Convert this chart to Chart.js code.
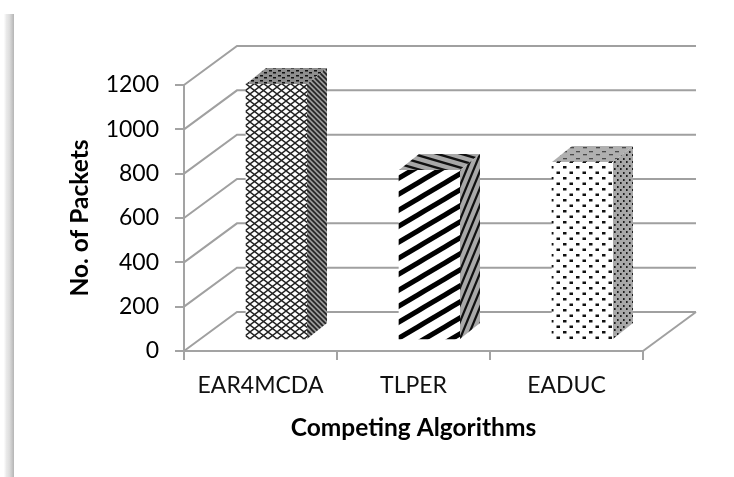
<!DOCTYPE html>
<html>
<head>
<meta charset="utf-8">
<title>No. of Packets</title>
<script src="https://cdn.jsdelivr.net/npm/chart.js@4/dist/chart.umd.min.js"></script>
<style>
  html, body { margin: 0; padding: 0; background: #fff; }
  canvas { display: block; }
</style>
</head>
<body>
<canvas id="grafico" width="734" height="477"></canvas>
<script>
var categorias = ["EAR4MCDA", "TLPER", "EADUC"];
var pacotes = [1155, 767, 803];
var ticksY = [0, 200, 400, 600, 800, 1000, 1200];

var corEixo = "#a3a3a3";
var corGrade = "#a0a0a0";
// deslocamentos do efeito 3D
var fundoX = 53, fundoY = -39;
var barraX = 16, barraY = -11;
var ladoX = 20, ladoY = -16;

function criaTile(w, h, fundo, desenha) {
  var c = document.createElement("canvas");
  c.width = w;
  c.height = h;
  var g = c.getContext("2d");
  g.fillStyle = fundo;
  g.fillRect(0, 0, w, h);
  desenha(g);
  return g.createPattern(c, "repeat");
}

function riscos(g, w, h, largura, cor, sobe) {
  g.strokeStyle = cor;
  g.lineWidth = largura;
  for (var i = -3; i <= 3; i++) {
    g.beginPath();
    if (sobe) {
      g.moveTo(i * w - w, 2 * h);
      g.lineTo(i * w + 2 * w, -h);
    } else {
      g.moveTo(i * w - w, -h);
      g.lineTo(i * w + 2 * w, 2 * h);
    }
    g.stroke();
  }
}

function pingos(g, pts, cor, w, h) {
  g.fillStyle = cor;
  pts.forEach(function(p) {
    g.fillRect(p[0], p[1], w, h);
  });
}

var texturas = [
  {
    frente: criaTile(9, 7, "#ffffff", function(g) {
      riscos(g, 9, 7, 1.4, "#222222", true);
      riscos(g, 9, 7, 1.4, "#222222", false);
    }),
    topo: criaTile(9, 5, "#8f8f8f", function(g) {
      pingos(g, [[1, 1], [5, 3]], "#111111", 3, 1.5);
    }),
    lado: criaTile(5, 5, "#9a9a9a", function(g) { riscos(g, 5, 5, 1.6, "#222222", false); })
  },
  {
    frente: criaTile(27, 16, "#ffffff", function(g) { riscos(g, 27, 16, 5, "#000000", true); }),
    topo: criaTile(24, 7, "#a8a8a8", function(g) { riscos(g, 24, 7, 2.4, "#111111", false); }),
    lado: criaTile(7, 17, "#a8a8a8", function(g) { riscos(g, 7, 17, 2.2, "#111111", true); })
  },
  {
    frente: criaTile(13, 11, "#ffffff", function(g) {
      pingos(g, [[1, 1], [7.5, 6.5]], "#111111", 3.5, 2.5);
    }),
    topo: criaTile(13, 7, "#b0b0b0", function(g) {
      pingos(g, [[1, 1], [8, 4]], "#4a4a4a", 4, 1.3);
    }),
    lado: criaTile(6, 7, "#a8a8a8", function(g) {
      pingos(g, [[1, 1], [4, 4]], "#1c1c1c", 1.6, 2);
    })
  }
];

var paredes3d = {
  id: "paredes3d",
  beforeDraw: function(chart) {
    // sombra da folha, lado esquerdo
    var ctx = chart.ctx;
    var grad = ctx.createLinearGradient(4, 0, 14, 0);
    grad.addColorStop(0, "rgba(200,200,200,0)");
    grad.addColorStop(0.5, "rgba(225,225,225,1)");
    grad.addColorStop(0.95, "rgba(185,185,185,1)");
    grad.addColorStop(1, "rgba(255,255,255,0)");
    ctx.fillStyle = grad;
    ctx.fillRect(4, 14, 10, 463);
  },
  beforeDatasetsDraw: function(chart) {
    var ctx = chart.ctx;
    var y = chart.scales.y;
    var a = chart.chartArea;
    ctx.save();
    ctx.strokeStyle = corGrade;
    ctx.lineWidth = 2;
    ticksY.forEach(function(v) {
      var py = y.getPixelForValue(v);
      ctx.beginPath();
      ctx.moveTo(a.left, py);
      ctx.lineTo(a.left + fundoX, py + fundoY);
      ctx.lineTo(a.right + fundoX, py + fundoY);
      ctx.stroke();
    });
    // chao
    var base = y.getPixelForValue(0);
    ctx.beginPath();
    ctx.moveTo(a.right, base);
    ctx.lineTo(a.right + fundoX, base + fundoY);
    ctx.stroke();
    ctx.restore();

    ctx.save();
    ctx.translate(barraX, barraY);
  },
  afterDatasetsDraw: function(chart) {
    var ctx = chart.ctx;
    chart.getDatasetMeta(0).data.forEach(function(bar, i) {
      var esq = bar.x - bar.width / 2;
      var dir = bar.x + bar.width / 2;
      ctx.fillStyle = texturas[i].topo;
      ctx.beginPath();
      ctx.moveTo(esq, bar.y);
      ctx.lineTo(esq + ladoX, bar.y + ladoY);
      ctx.lineTo(dir + ladoX, bar.y + ladoY);
      ctx.lineTo(dir, bar.y);
      ctx.closePath();
      ctx.fill();
      ctx.fillStyle = texturas[i].lado;
      ctx.beginPath();
      ctx.moveTo(dir, bar.y);
      ctx.lineTo(dir + ladoX, bar.y + ladoY);
      ctx.lineTo(dir + ladoX, bar.base + ladoY);
      ctx.lineTo(dir, bar.base);
      ctx.closePath();
      ctx.fill();
    });
    ctx.restore();
  }
};

new Chart(document.getElementById("grafico"), {
  type: "bar",
  plugins: [paredes3d],
  data: {
    labels: categorias,
    datasets: [{
      data: pacotes,
      backgroundColor: texturas.map(function(t) { return t.frente; }),
      borderWidth: 0,
      barThickness: 61
    }]
  },
  options: {
    responsive: false,
    animation: false,
    layout: { padding: { top: 85, right: 91, left: 0, bottom: 0 } },
    plugins: { legend: { display: false }, tooltip: { enabled: false } },
    scales: {
      x: {
        afterFit: function(s) { s.height = 126; },
        grid: { drawOnChartArea: false, drawTicks: true, tickLength: 9, color: corEixo, lineWidth: 2 },
        border: { color: corEixo, width: 2 },
        ticks: { color: "#111", padding: 12, maxRotation: 0, font: { family: "Lato", size: 23 } },
        title: {
          display: true,
          text: "Competing Algorithms",
          color: "#000",
          font: { family: "Lato", size: 24.5, weight: "bold" },
          padding: { top: 0, bottom: 34 }
        }
      },
      y: {
        min: 0,
        max: 1200,
        afterFit: function(s) { s.width = 184; },
        afterBuildTicks: function(s) {
          s.ticks = ticksY.map(function(v) { return { value: v }; });
        },
        grid: { drawOnChartArea: false, drawTicks: true, tickLength: 9, color: corEixo, lineWidth: 2 },
        border: { color: corEixo, width: 2 },
        ticks: {
          color: "#000",
          padding: 16,
          font: { family: "Lato", size: 23 },
          callback: function(v) { return String(v); }
        },
        title: {
          display: true,
          text: "No. of Packets",
          color: "#000",
          font: { family: "Lato", size: 24.5, weight: "bold" },
          padding: { top: 65, bottom: 0 }
        }
      }
    }
  }
});
</script>
</body>
</html>
